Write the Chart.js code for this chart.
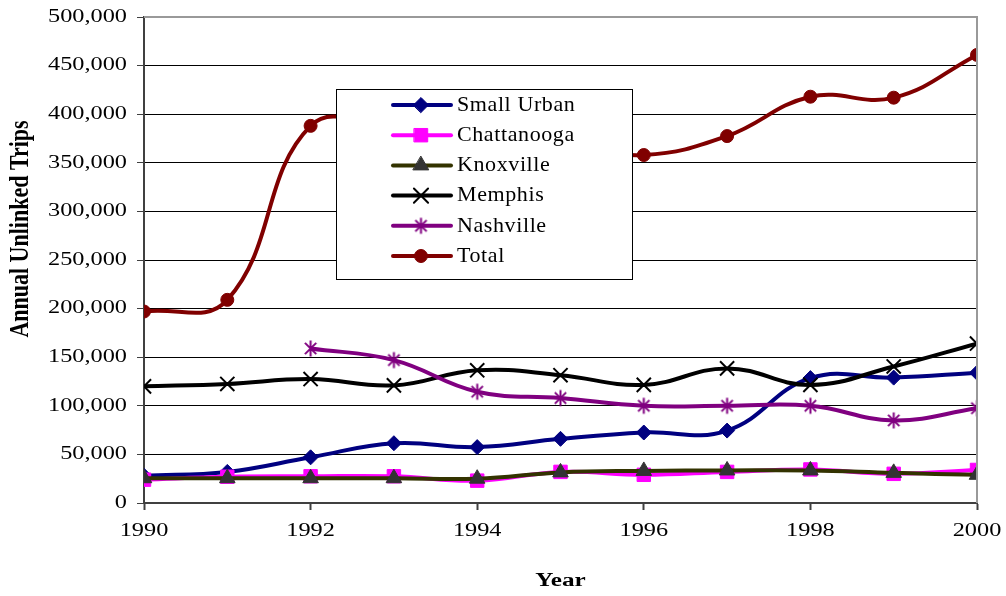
<!DOCTYPE html>
<html>
<head>
<meta charset="utf-8">
<title>Annual Unlinked Trips</title>
<script src="https://cdn.jsdelivr.net/npm/chart.js@4.4.1/dist/chart.umd.min.js"></script>
<style>
  html, body { margin: 0; padding: 0; background: #fff; }
  #wrap { width: 1006px; height: 596px; }
</style>
</head>
<body>
<div id="wrap"><canvas id="trips" width="1006" height="596"></canvas></div>
<script>
const years = [1990, 1991, 1992, 1993, 1994, 1995, 1996, 1997, 1998, 1999, 2000];

const smallUrban = [28000, 32000, 47000, 61500, 57500, 66000, 72500, 74500, 128500, 129000, 134000];
const chattanooga = [24000, 27000, 27500, 27500, 23000, 32000, 29000, 32000, 34500, 30000, 34000];
const knoxville = [25500, 25500, 25500, 25500, 25000, 31500, 33000, 33500, 33500, 31000, 29000];
const memphis = [120000, 122500, 127500, 121000, 136500, 131500, 121500, 138500, 121500, 140500, 164000];
const nashville = [null, null, 159000, 147000, 114500, 108000, 100000, 100000, 100000, 85000, 97500];
const total = [197000, 209000, 388000, 382000, 357000, 368000, 358000, 377500, 418000, 417000, 461000];

const yTicks = [0, 50000, 100000, 150000, 200000, 250000, 300000, 350000, 400000, 450000, 500000];
const xTicks = [1990, 1992, 1994, 1996, 1998, 2000];

const serif = '"Liberation Serif", "Times New Roman", serif';

// asterisk marker: a vertical bar crossed by an X
function makeAsterisk(color, size) {
  const c = document.createElement("canvas");
  c.width = size;
  c.height = size;
  const g = c.getContext("2d");
  const m = size / 2, r = size / 2 - 1.5, d = r * Math.SQRT1_2;
  g.strokeStyle = color;
  g.lineWidth = 2;
  g.beginPath();
  g.moveTo(m, m - r); g.lineTo(m, m + r);
  g.moveTo(m - d, m - d); g.lineTo(m + d, m + d);
  g.moveTo(m + d, m - d); g.lineTo(m - d, m + d);
  g.stroke();
  return c;
}

const series = [
  { label: "Small Urban", data: smallUrban, line: "#000080", fill: "#000080", style: "rectRot", radius: 7.5 },
  { label: "Chattanooga", data: chattanooga, line: "#ff00ff", fill: "#ff00ff", style: "rect", radius: 9.5 },
  { label: "Knoxville", data: knoxville, line: "#333300", fill: "#333333", style: "triangle", radius: 9 },
  { label: "Memphis", data: memphis, line: "#000000", fill: "#000000", style: "crossRot", radius: 10 },
  { label: "Nashville", data: nashville, line: "#800080", fill: "#800080", style: makeAsterisk("#800080", 19), radius: 9 },
  { label: "Total", data: total, line: "#800000", fill: "#800000", style: "circle", radius: 6.5 },
];

const datasets = series.map((s, i) => ({
  label: s.label,
  data: years.map((yr, j) => ({ x: yr, y: s.data[j] })),
  borderColor: s.line,
  borderWidth: 4,
  backgroundColor: s.fill,
  pointBackgroundColor: s.fill,
  pointBorderColor: s.fill,
  pointBorderWidth: s.style === "crossRot" ? 2 : 1,
  pointStyle: s.style,
  pointRadius: s.radius,
  tension: 0.42,
  fill: false,
  order: series.length - i,
}));

function stretchedText(ctx, text, x, y, align, sx) {
  ctx.save();
  ctx.translate(x, y);
  ctx.scale(sx, 1);
  ctx.textAlign = align;
  ctx.textBaseline = "middle";
  ctx.fillText(text, 0, 0);
  ctx.restore();
}

// tick labels, axis titles and the frame on the top/right of the plot
const axisText = {
  id: "axisText",
  afterDraw(chart) {
    const ctx = chart.ctx;
    const area = chart.chartArea;
    const xs = chart.scales.x, ys = chart.scales.y;

    ctx.save();
    ctx.strokeStyle = "#999999";
    ctx.lineWidth = 2;
    ctx.beginPath();
    ctx.moveTo(area.left, area.top);
    ctx.lineTo(area.right, area.top);
    ctx.lineTo(area.right, area.bottom);
    ctx.stroke();

    ctx.fillStyle = "#000";
    ctx.font = "18px " + serif;
    yTicks.forEach(v => {
      stretchedText(ctx, v.toLocaleString("en-US"), area.left - 17, ys.getPixelForValue(v), "right", 1.35);
    });
    xTicks.forEach(v => {
      stretchedText(ctx, String(v), xs.getPixelForValue(v), area.bottom + 28, "center", 1.35);
    });

    ctx.font = "bold 18px " + serif;
    stretchedText(ctx, "Year", (area.left + area.right) / 2, 581, "center", 1.4);

    ctx.save();
    ctx.translate(21, 229);
    ctx.rotate(-Math.PI / 2);
    ctx.scale(1, 1.25);
    ctx.font = "bold 22px " + serif;
    ctx.textAlign = "center";
    ctx.textBaseline = "middle";
    ctx.fillText("Annual Unlinked Trips", 0, 0);
    ctx.restore();
    ctx.restore();
  },
};

// boxed legend sitting inside the plot area
const boxLegend = {
  id: "boxLegend",
  afterDatasetsDraw(chart) {
    const ctx = chart.ctx;
    const box = { x: 336, y: 89, w: 296, h: 190 };
    ctx.save();
    ctx.fillStyle = "#fff";
    ctx.fillRect(box.x, box.y, box.w, box.h);
    ctx.strokeStyle = "#000";
    ctx.lineWidth = 1;
    ctx.strokeRect(box.x + 0.5, box.y + 0.5, box.w, box.h);

    series.forEach((s, i) => {
      const y = 105 + i * 30.2;
      ctx.strokeStyle = s.line;
      ctx.lineWidth = 4;
      ctx.lineCap = "round";
      ctx.beginPath();
      ctx.moveTo(393, y);
      ctx.lineTo(451, y);
      ctx.stroke();

      ctx.fillStyle = s.fill;
      ctx.strokeStyle = s.fill;
      ctx.lineWidth = s.style === "crossRot" ? 2 : 1;
      Chart.helpers.drawPoint(ctx, { pointStyle: s.style, radius: s.radius, borderWidth: ctx.lineWidth, rotation: 0 }, 421, y);

      ctx.fillStyle = "#000";
      ctx.font = "22px " + serif;
      ctx.letterSpacing = "0.6px";
      ctx.textAlign = "left";
      ctx.textBaseline = "middle";
      ctx.fillText(s.label, 457, y);
      ctx.letterSpacing = "0px";
    });
    ctx.restore();
  },
};

new Chart(document.getElementById("trips"), {
  type: "line",
  data: { datasets: datasets },
  plugins: [boxLegend, axisText],
  options: {
    responsive: false,
    animation: false,
    events: [],
    layout: { padding: { top: 17, right: 29, left: 0, bottom: 0 } },
    plugins: {
      legend: { display: false },
      tooltip: { enabled: false },
    },
    scales: {
      x: {
        type: "linear",
        min: 1990,
        max: 2000,
        ticks: { stepSize: 2, display: false },
        grid: { drawOnChartArea: false, drawTicks: true, tickLength: 7, tickColor: "#404040", tickWidth: 2 },
        border: { color: "#404040", width: 2 },
        afterFit(scale) { scale.height = 93; },
      },
      y: {
        min: 0,
        max: 500000,
        ticks: { stepSize: 50000, display: false },
        grid: { color: "#000", lineWidth: 1, tickLength: 7, tickColor: "#404040" },
        border: { color: "#404040", width: 2 },
        afterFit(scale) { scale.width = 144; },
      },
    },
  },
});
</script>
</body>
</html>
